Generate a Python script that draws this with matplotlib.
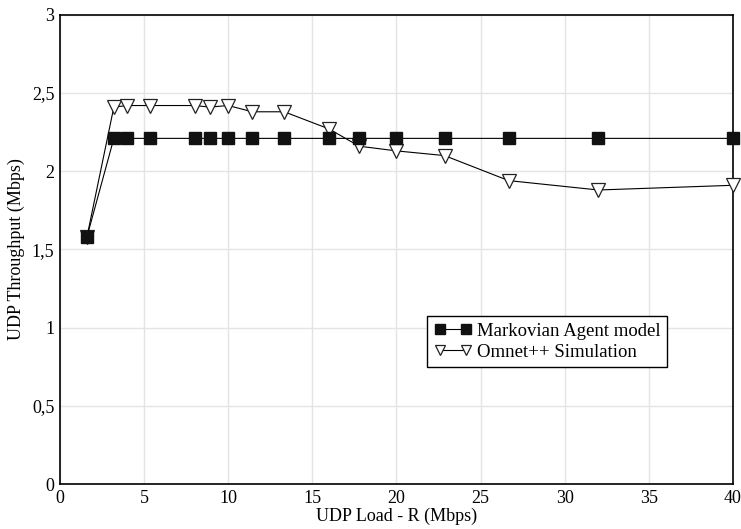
#!/usr/bin/env python3
import matplotlib
matplotlib.use('Agg')
import numpy as n
import matplotlib.pyplot as plt

plt.rcParams['font.family'] = ['Liberation Serif', 'DejaVu Serif']

# UDP load (Mbps)
load = [1.6, 3.2, 4.0, 5.33, 8.0, 8.89, 10.0, 11.43, 13.33, 16.0, 17.78, 20.0, 22.86, 26.67, 32.0, 40.0]
# throughput (Mbps)
markov = [1.58, 2.21, 2.21, 2.21, 2.21, 2.21, 2.21, 2.21, 2.21, 2.21, 2.21, 2.21, 2.21, 2.21, 2.21, 2.21]
omnet = [1.58, 2.41, 2.42, 2.42, 2.42, 2.41, 2.42, 2.38, 2.38, 2.27, 2.16, 2.13, 2.10, 1.94, 1.88, 1.91]

xticks = [0, 5, 10, 15, 20, 25, 30, 35, 40]
yticks = [0, 0.5, 1, 1.5, 2, 2.5, 3]
ylabels = ["0", "0,5", "1", "1,5", "2", "2,5", "3"]

fig = plt.figure(figsize=(7.41, 5.29), dpi=100)
ax = fig.add_axes([0.081, 0.085, 0.908, 0.887])

ax.plot(load, omnet, '-v', color='k', mfc='white', mec='#222222', ms=10, mew=0.9, lw=0.8,
        label="Omnet++ Simulation", zorder=3, clip_on=False)
ax.plot(load, markov, '-s', color='k', mfc='#111111', mec='#111111', ms=9, lw=0.8,
        label="Markovian Agent model", zorder=4, clip_on=False)

ax.set_xlim(0, 40)
ax.set_ylim(0, 3)
ax.set_xticks(xticks)
ax.set_yticks(yticks)
ax.set_yticklabels(ylabels)
ax.tick_params(length=0, labelsize=13, pad=4)
ax.grid(True, color='#e4e4e4', lw=1)
ax.set_axisbelow(True)
for s in ax.spines.values():
    s.set_linewidth(1.2)

ax.set_xlabel("UDP Load - R (Mbps)", fontsize=13, labelpad=1)
ax.set_ylabel("UDP Throughput (Mbps)", fontsize=13, labelpad=5)

h, l = ax.get_legend_handles_labels()
leg = ax.legend(h[::-1], l[::-1], loc='upper left', bbox_to_anchor=(0.546, 0.358), numpoints=2,
                fontsize=13.5, markerscale=0.75,
                fancybox=False, framealpha=1, edgecolor='k', borderpad=0.35,
                handlelength=2.0, handletextpad=0.3, labelspacing=0.2, borderaxespad=0)
leg.get_frame().set_linewidth(1.0)

plt.savefig("out.png")
